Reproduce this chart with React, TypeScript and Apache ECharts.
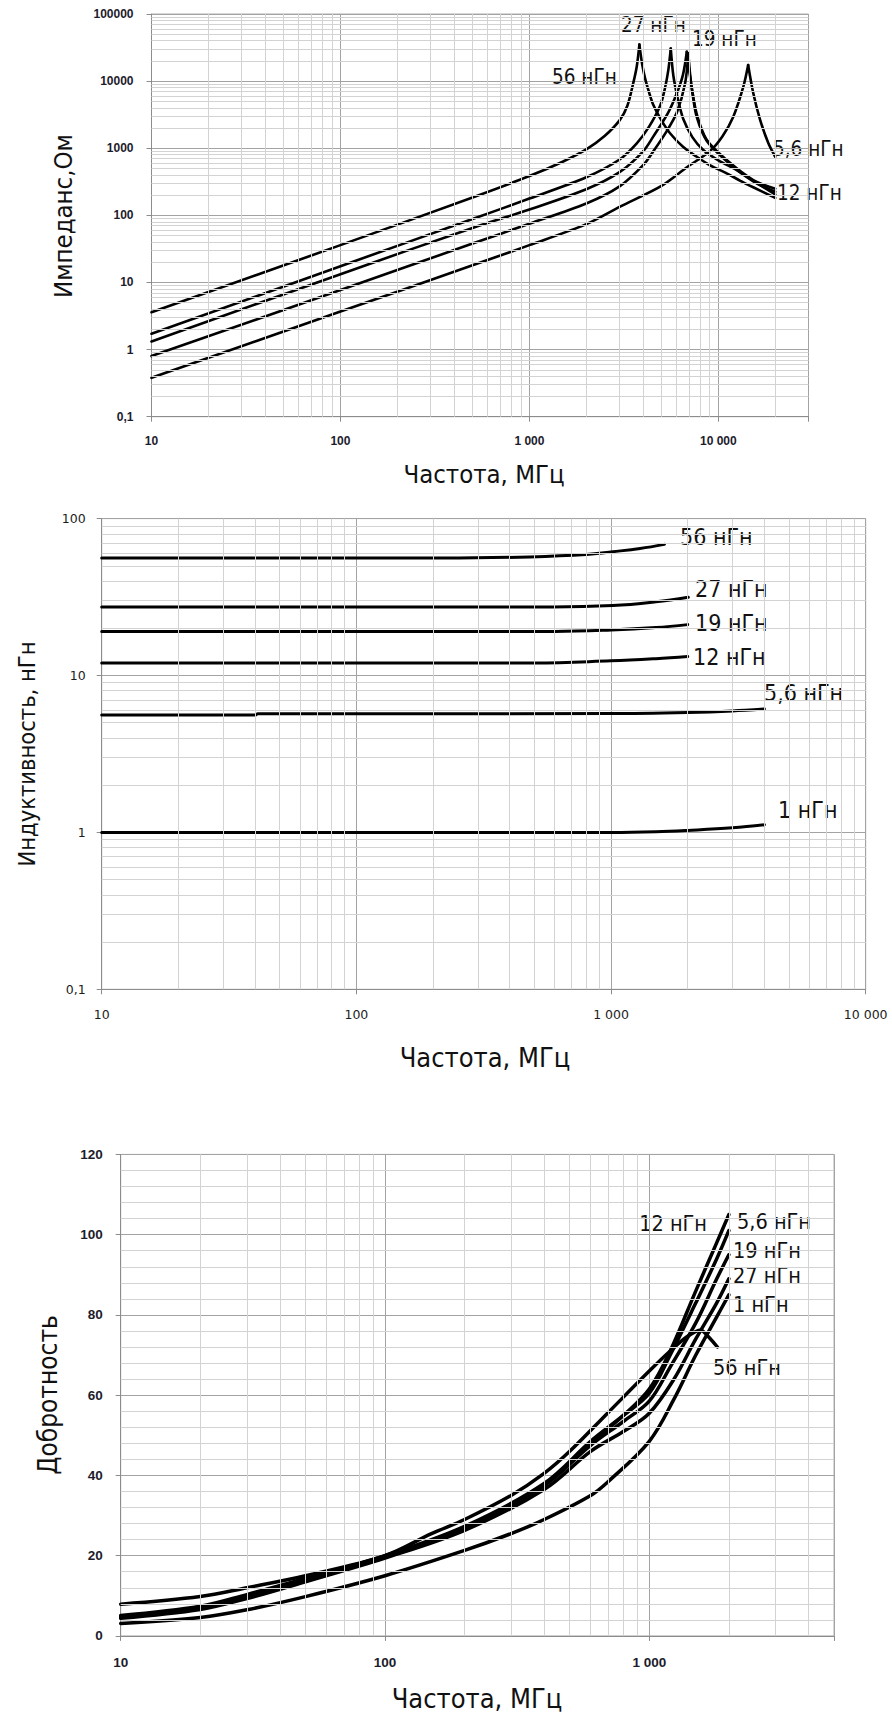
import React, { useEffect, useRef } from "react";
import * as echarts from "echarts";

// ---------- Fonts & colours ----------
const NARROW = "'Liberation Sans Narrow', 'DejaVu Sans Condensed', 'Noto Sans', sans-serif";
const BOLD_TICK = "'Liberation Sans', Arial, sans-serif";
const REG_TICK = "'DejaVu Sans', Verdana, sans-serif";
const MAJOR = "#a3a3a3";
const MINOR = "#d3d3d3";
const AXIS = "#8c8c8c";
const INK = "#000000";

// ---------- Chart 1: impedance |Z| (Ohm) vs frequency (MHz) ----------
const imp56: [number, number][] = [
  [10, 3.6], [100, 36], [500, 185], [1000, 385], [1500, 630], [2000, 960], [2500, 1520],
  [3000, 2600], [3300, 4300], [3550, 9500], [3700, 16500], [3820, 35000], [3950, 18000],
  [4095, 11000], [4300, 6800], [4530, 4400], [5000, 2600], [5550, 1670], [6500, 1050],
  [7690, 746], [9000, 560], [11070, 423], [13000, 330], [15300, 262], [20000, 182],
];
const imp27: [number, number][] = [
  [10, 1.72], [100, 17.5], [500, 88], [1000, 178], [2000, 370], [3000, 680], [3700, 1183],
  [4300, 2100], [4920, 4300], [5200, 7500], [5435, 14600], [5600, 30500], [5780, 12000],
  [6100, 5500], [6530, 2700], [7300, 1450], [8320, 940], [10000, 660], [12500, 473],
  [15500, 320], [20000, 205],
];
const imp19: [number, number][] = [
  [10, 1.32], [100, 13.3], [500, 65], [1000, 122], [2000, 245], [3000, 440], [4000, 900],
  [4530, 1500], [5400, 3300], [6030, 6580], [6500, 12500], [6810, 27400], [7000, 15000],
  [7220, 8270], [7690, 3200], [8690, 1325], [11070, 667], [15310, 336], [20000, 250],
];
const imp12: [number, number][] = [
  [10, 0.8], [100, 7.7], [500, 38], [1000, 75], [2000, 150], [3000, 270], [4000, 560],
  [4530, 900], [5300, 1750], [6030, 3400], [6670, 9270], [6935, 25900], [7100, 12000],
  [7300, 6500], [7690, 2900], [8690, 1280], [11070, 640], [15310, 320], [20000, 225],
];
const imp5_6: [number, number][] = [
  [10, 0.38], [100, 3.7], [500, 18], [1000, 36], [2000, 74], [3020, 135], [5000, 275],
  [6810, 520], [9000, 900], [10500, 1500], [12000, 2950], [13560, 8270], [14380, 17400],
  [15310, 6580], [16650, 2630], [18400, 1183], [20000, 746],
];

// ---------- Chart 2: inductance (nH) vs frequency (MHz) ----------
const ind56: [number, number][] = [
  [10, 56], [220, 56], [480, 57], [800, 59], [1016, 61.5], [1300, 64.5], [1620, 68.5],
];
const ind27: [number, number][] = [
  [10, 27.3], [590, 27.3], [1016, 27.9], [1500, 29.5], [2010, 31.5],
];
const ind19: [number, number][] = [
  [10, 19.1], [600, 19.1], [1000, 19.5], [1500, 20.2], [2000, 21.1],
];
const ind12: [number, number][] = [
  [10, 12], [500, 12], [1000, 12.4], [1500, 12.8], [2000, 13.2],
];
const ind5_6: [number, number][] = [
  [10, 5.6], [40, 5.6], [41, 5.7], [1000, 5.72], [2000, 5.82], [3000, 5.95], [4000, 6.12],
];
const ind1: [number, number][] = [
  [10, 1.0], [1000, 1.0], [1500, 1.01], [2000, 1.03], [3000, 1.07], [4000, 1.12],
];

// ---------- Chart 3: quality factor vs frequency (MHz) ----------
const q56: [number, number][] = [
  [10, 7.9], [20, 9.8], [30, 12], [50, 15], [100, 20], [150, 25.5], [200, 29], [300, 35],
  [400, 40.5], [500, 46], [695, 55.5], [1000, 66], [1200, 71], [1393, 74.6], [1564, 76.2],
  [1660, 74.8], [1810, 72],
];
const q12: [number, number][] = [
  [10, 4.6], [20, 7.0], [30, 9.6], [50, 13.8], [100, 19.6], [200, 27], [400, 37.5],
  [600, 48], [800, 55], [1000, 61.5], [1200, 71], [1500, 86], [1800, 98], [2000, 105],
];
const q5_6: [number, number][] = [
  [10, 5.1], [20, 7.4], [30, 10.3], [50, 14.3], [100, 20], [200, 27.3], [400, 38],
  [600, 48.5], [800, 55], [1000, 60.5], [1200, 70], [1500, 83], [1800, 94], [2000, 101],
];
const q19: [number, number][] = [
  [10, 4.8], [20, 7.2], [30, 9.9], [50, 14], [100, 19.8], [200, 27], [400, 37.5],
  [600, 47.5], [800, 53.5], [1000, 58.5], [1200, 67], [1500, 78], [1800, 89], [2000, 95],
];
const q27: [number, number][] = [
  [10, 4.4], [20, 6.6], [30, 9.3], [50, 13.5], [100, 19.4], [200, 26.3], [400, 36.5],
  [600, 46], [800, 51], [1000, 55.5], [1240, 64], [1500, 74], [1800, 83], [2000, 89],
];
const q1: [number, number][] = [
  [10, 3.1], [20, 4.6], [30, 6.5], [50, 9.8], [100, 15], [200, 21.3], [300, 25.5],
  [400, 29], [600, 35], [700, 38.5], [1000, 48.5], [1240, 59], [1500, 70], [1800, 79.5],
  [2000, 85],
];

// ---------- Texts ----------
const FREQ_TITLE = "Частота, МГц";
const Y_TITLE_1 = "Импеданс,Ом";
const Y_TITLE_2 = "Индуктивность, нГн";
const Y_TITLE_3 = "Добротность";
const labels1 = ["56 нГн", "27 нГн", "19 нГн", "5,6 нГн", "12 нГн"];
const labels2 = ["56 нГн", "27 нГн", "19 нГн", "12 нГн", "5,6 нГн", "1 нГн"];
const labels3 = ["12 нГн", "5,6 нГн", "19 нГн", "27 нГн", "1 нГн", "56 нГн"];

// ---------- helpers ----------
function isDecade(v: number) {
  const l = Math.log10(v);
  return Math.abs(l - Math.round(l)) < 1e-6;
}
function fmtFreq(v: number) {
  if (!isDecade(v)) return "";
  const n = Math.round(v);
  return String(n).replace(/\B(?=(\d{3})+(?!\d))/g, " ");
}
function fmtLogY(v: number) {
  if (!isDecade(v)) return "";
  if (v < 1) return String(Math.round(v * 10) / 10).replace(".", ",");
  return String(Math.round(v));
}
function decadeMinors(from: number, to: number) {
  const out: number[] = [];
  for (let d = from; d < to * 0.999; d *= 10) {
    for (let m = 2; m <= 9; m++) out.push(+(m * d).toPrecision(6));
  }
  return out;
}
// split a resonance curve at its peak so each branch can be smoothed while the cusp stays sharp
function splitAtPeak(data: [number, number][]): [[number, number][], [number, number][]] {
  let k = 0;
  data.forEach((p, i) => {
    if (p[1] > data[k][1]) k = i;
  });
  return [data.slice(0, k + 1), data.slice(k)];
}

function gridLines(idx: number, xs: number[], ys: number[], anchor: [number, number]) {
  return {
    type: "line",
    xAxisIndex: idx,
    yAxisIndex: idx,
    data: [anchor],
    symbol: "none",
    showSymbol: false,
    silent: true,
    z: 1,
    lineStyle: { opacity: 0 },
    markLine: {
      silent: true,
      animation: false,
      symbol: ["none", "none"],
      label: { show: false },
      emphasis: { disabled: true },
      lineStyle: { color: MINOR, width: 1, type: "solid" },
      data: [...xs.map((v) => ({ xAxis: v })), ...ys.map((v) => ({ yAxis: v }))],
    },
  };
}

function curve(idx: number, name: string, data: [number, number][], width: number, smooth: number | boolean) {
  return {
    type: "line",
    name,
    xAxisIndex: idx,
    yAxisIndex: idx,
    data,
    symbol: "none",
    showSymbol: false,
    smooth,
    silent: true,
    z: 3,
    lineStyle: { color: INK, width, cap: "round", join: "round" },
  };
}

function resonance(idx: number, name: string, data: [number, number][], width: number) {
  const [up, down] = splitAtPeak(data);
  return [curve(idx, name, up, width, 0.3), curve(idx, name, down, width, 0.3)];
}

function txt(text: string, x: number, y: number, size: number, align = "left", rotation = 0) {
  return {
    type: "text",
    x,
    y,
    rotation,
    silent: true,
    style: {
      text,
      fill: "#111",
      fontSize: size,
      fontFamily: NARROW,
      align,
      verticalAlign: "middle",
      textAlign: align,
      textVerticalAlign: "middle",
    },
  };
}

function axisCommon() {
  return {
    axisLine: { show: true, lineStyle: { color: AXIS, width: 1 } },
    axisTick: { show: true, length: 5, inside: false, lineStyle: { color: AXIS } },
    splitLine: { show: true, lineStyle: { color: MAJOR, width: 1 } },
  };
}

export default function App() {
  const ref = useRef<HTMLDivElement>(null);

  useEffect(() => {
    if (!ref.current) return;
    const chart = echarts.init(ref.current, undefined, { renderer: "svg" });

    const boldLbl = (size: number, margin: number, fmt: any) => ({
      formatter: fmt,
      margin,
      fontFamily: BOLD_TICK,
      fontWeight: "bold",
      fontSize: size,
      color: "#1c1c2c",
    });
    const regLbl = (size: number, margin: number, fmt: any) => ({
      formatter: fmt,
      margin,
      fontFamily: REG_TICK,
      fontSize: size,
      color: "#1c1c1c",
    });

    const option: any = {
      animation: false,
      backgroundColor: "#ffffff",
      grid: [
        { left: 151.5, top: 14, width: 657, height: 402.7, show: true, borderColor: "#b0b0b0", borderWidth: 1 },
        { left: 101.7, top: 518.6, width: 764, height: 470.7, show: true, borderColor: "#b0b0b0", borderWidth: 1 },
        { left: 120.7, top: 1154.4, width: 713.3, height: 481.5, show: true, borderColor: "#b0b0b0", borderWidth: 1 },
      ],
      xAxis: [
        { gridIndex: 0, type: "log", logBase: 10, min: 10, max: 30000, interval: 1, ...axisCommon(), axisLabel: boldLbl(12, 18, fmtFreq) },
        { gridIndex: 1, type: "log", logBase: 10, min: 10, max: 10000, interval: 1, ...axisCommon(), axisLabel: regLbl(12.5, 19, fmtFreq) },
        { gridIndex: 2, type: "log", logBase: 10, min: 10, max: 5000, interval: 1, ...axisCommon(), axisLabel: boldLbl(13.5, 20, fmtFreq) },
      ],
      yAxis: [
        { gridIndex: 0, type: "log", logBase: 10, min: 0.1, max: 100000, interval: 1, ...axisCommon(), axisLabel: boldLbl(12, 18, fmtLogY) },
        { gridIndex: 1, type: "log", logBase: 10, min: 0.1, max: 100, interval: 1, ...axisCommon(), axisLabel: regLbl(12.5, 16, fmtLogY) },
        { gridIndex: 2, type: "value", min: 0, max: 120, interval: 20, ...axisCommon(), axisLabel: boldLbl(13.5, 18, (v: number) => String(v)) },
      ],
      series: [
        gridLines(0, decadeMinors(10, 100000).filter((v) => v < 30000), decadeMinors(0.1, 100000), [10, 0.1]),
        gridLines(1, decadeMinors(10, 10000), decadeMinors(0.1, 100), [10, 0.1]),
        gridLines(
          2,
          decadeMinors(10, 10000).filter((v) => v < 5000),
          Array.from({ length: 30 }, (_, i) => (i + 1) * 4).filter((v) => v % 20 !== 0 && v < 120),
          [10, 0]
        ),
        ...resonance(0, "56 нГн", imp56, 2.6),
        ...resonance(0, "27 нГн", imp27, 2.6),
        ...resonance(0, "19 нГн", imp19, 2.6),
        ...resonance(0, "12 нГн", imp12, 2.6),
        ...resonance(0, "5,6 нГн", imp5_6, 2.6),
        curve(1, "56 нГн", ind56, 3, 0.4),
        curve(1, "27 нГн", ind27, 3, 0.4),
        curve(1, "19 нГн", ind19, 3, 0.4),
        curve(1, "12 нГн", ind12, 3, 0.4),
        curve(1, "5,6 нГн", ind5_6, 3, 0.3),
        curve(1, "1 нГн", ind1, 3, 0.4),
        curve(2, "56 нГн", q56, 3.5, 0.35),
        curve(2, "12 нГн", q12, 3.5, 0.35),
        curve(2, "5,6 нГн", q5_6, 3.5, 0.35),
        curve(2, "19 нГн", q19, 3.5, 0.35),
        curve(2, "27 нГн", q27, 3.5, 0.35),
        curve(2, "1 нГн", q1, 3.5, 0.35),
      ],
      graphic: [
        // chart 1 titles & labels
        txt(FREQ_TITLE, 484, 474, 25.5, "center"),
        txt(Y_TITLE_1, 63, 216, 25.5, "center", Math.PI / 2),
        txt(labels1[0], 552, 77, 20.5),
        txt(labels1[1], 621, 25, 20.5),
        txt(labels1[2], 692, 39, 20.5),
        txt(labels1[3], 773, 149, 20.5),
        txt(labels1[4], 777, 193, 20.5),
        // chart 2
        txt(FREQ_TITLE, 485, 1057, 27, "center"),
        txt(Y_TITLE_2, 27, 754, 23.5, "center", Math.PI / 2),
        txt(labels2[0], 680, 537, 23),
        txt(labels2[1], 695, 589, 23),
        txt(labels2[2], 695, 623, 23),
        txt(labels2[3], 693, 657, 23),
        txt(labels2[4], 764, 693, 23),
        txt(labels2[5], 778, 810, 23),
        // chart 3
        txt(FREQ_TITLE, 477, 1698, 27, "center"),
        txt(Y_TITLE_3, 48, 1395, 26, "center", Math.PI / 2),
        txt(labels3[0], 707, 1223, 21.5, "right"),
        txt(labels3[1], 737, 1221, 21.5),
        txt(labels3[2], 733, 1250, 21.5),
        txt(labels3[3], 733, 1275, 21.5),
        txt(labels3[4], 733, 1304, 21.5),
        txt(labels3[5], 713, 1367, 21.5),
      ],
    };

    chart.setOption(option);
    return () => chart.dispose();
  }, []);

  return (
    <div
      ref={ref}
      style={{ position: "absolute", left: 0, top: 0, width: 892, height: 1720, background: "#fff" }}
    />
  );
}
